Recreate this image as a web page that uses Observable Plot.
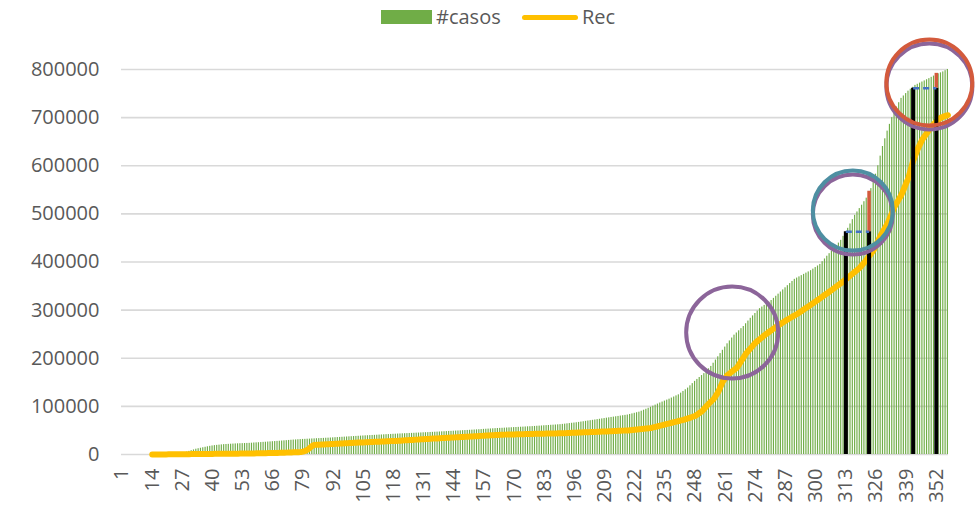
<!DOCTYPE html>
<html><head><meta charset="utf-8">
<script src="https://cdn.jsdelivr.net/npm/d3@7"></script>
<script src="https://cdn.jsdelivr.net/npm/@observablehq/plot@0.6"></script>
<style>
body{margin:0;background:#fff;font-family:"Open Sans",sans-serif;}
#legend{position:relative;height:35px;width:979px;color:#595959;font-size:20px;}
#legend .sw{position:absolute;}
#legend .lb{position:absolute;top:3px;line-height:28px;}
</style></head>
<body>
<div id="legend">
  <div class="sw" style="left:381px;top:10px;width:51px;height:14px;background:#70AD47"></div>
  <div class="lb" style="left:436px">#casos</div>
  <div class="sw" style="left:522px;top:15px;width:56px;height:5px;border-radius:3px;background:#FFC000"></div>
  <div class="lb" style="left:582px">Rec</div>
</div>
<div id="chart"></div>
<script>
const casos = [
0,0,0,0,0,0,0,0,0,0,0,0,0,0,0,0,0,0,0,0,0,0,0,0,
1000,2000,3000,4000,5000,6500,
8000,9500,11000,12000,13000,14000,15000,16000,17000,17800,
18500,19000,19500,20000,20500,20800,21100,21400,21700,22000,
22200,22400,22600,22800,23000,23200,23500,23900,24200,24500,
24800,25200,25500,25900,26200,26600,26900,27300,27600,28000,
28400,28800,29200,29600,30000,30300,30700,31000,31300,31500,
31800,32000,32300,32500,32800,33000,33300,33500,33800,34000,
34300,34600,34900,35200,35500,35800,36100,36400,36700,37000,
37300,37600,37900,38200,38500,38800,39000,39300,39600,39800,
40100,40400,40600,40900,41200,41400,41700,42000,42200,42500,
42700,43000,43200,43400,43700,43900,44100,44400,44600,44800,
45100,45300,45500,45800,46000,46300,46500,46800,47100,47300,
47600,47900,48100,48400,48700,48900,49200,49500,49700,50000,
50300,50600,50900,51200,51500,51800,52200,52500,52800,53100,
53400,53700,54000,54300,54500,54800,55100,55300,55600,55900,
56100,56400,56700,56900,57200,57500,57700,58000,58300,58700,
59000,59300,59700,60000,60300,60700,61000,61300,61700,62000,
62600,63100,63700,64300,64900,65400,66000,66700,67400,68100,
68900,69600,70300,71000,71700,72500,73200,74000,74700,75500,
76200,77000,77700,78400,79100,79900,80600,81300,82000,83200,
84400,85600,86800,88000,90000,92000,94000,96000,98200,100400,
102600,104800,107000,109000,111000,113000,115000,117300,119500,121800,
124000,127500,131000,134500,138000,142700,147300,152000,156000,160000,
164000,168000,173000,178000,183000,189700,196300,203000,209700,216500,
223200,230000,236000,242000,248000,252500,257000,261500,266000,271700,
277300,283000,288000,293000,298000,303000,306400,309800,313200,316600,
320000,324400,328800,333200,337600,342000,346400,350800,355200,359600,
364000,366600,369100,371700,374300,376900,379400,382000,385200,388500,
391700,395000,400700,406300,412000,417300,422700,428000,433700,439300,
445000,453300,461700,470000,479000,488000,497000,504000,511000,518000,
525300,532700,540000,552500,565000,582500,600000,620000,640000,656000,
672000,686000,700000,711000,722000,731000,740000,745000,750000,755000,
759000,763000,767000,769300,771700,774000,776300,778700,781000,783700,
786300,789000,791000,793000,795000,797500,800000
];
const rec = [
null,null,null,null,null,null,null,null,null,null,null,null,null,
0,0,50,100,150,200,250,
300,350,400,450,500,550,600,650,700,750,
800,850,900,950,1000,1050,1100,1150,1200,1250,
1300,1350,1400,1450,1500,1550,1600,1650,1700,1750,
1800,1850,1900,1950,2000,2100,2200,2300,2400,2500,
2600,2700,2800,2900,3000,3100,3200,3300,3400,3500,
3700,3900,4100,4300,4500,4700,4900,5100,6000,7500,
10000,14000,18000,20000,20300,20500,20800,21000,21300,21500,
21800,22000,22300,22500,22800,23000,23300,23500,23800,24000,
24200,24500,24700,24900,25100,25400,25600,25800,26000,26300,
26500,26700,26900,27200,27400,27600,27800,28100,28300,28500,
28800,29100,29400,29700,30000,30300,30600,30900,31200,31500,
31800,32100,32400,32700,33000,33300,33500,33800,34100,34300,
34600,34900,35100,35400,35700,35900,36200,36500,36700,37000,
37300,37600,37900,38100,38400,38700,39000,39300,39600,39900,
40100,40400,40700,41000,41100,41300,41400,41500,41600,41800,
41900,42000,42100,42300,42400,42500,42600,42800,42900,43000,
43100,43200,43300,43400,43500,43600,43700,43800,43900,44000,
44200,44400,44600,44800,45000,45200,45400,45600,45800,46000,
46200,46400,46600,46800,47000,47200,47400,47600,47800,48000,
48200,48400,48700,48900,49100,49300,49600,49800,50000,50500,
51000,51500,52000,52500,53000,53500,54000,54500,55000,56200,
57500,58700,60000,61200,62400,63600,64800,66000,67200,68400,
69600,70800,72000,73600,75200,76800,78400,80000,83300,86700,
90000,95300,100700,106000,110500,115000,122500,130000,141000,152000,
158500,165000,168800,172500,176300,180000,187500,195000,202500,210000,
215500,221000,226500,232000,236000,240000,244000,248000,251500,255000,
258500,262000,265200,268400,271600,274800,278000,280800,283600,286400,
289200,292000,295200,298400,301600,304800,308000,311400,314800,318200,
321600,325000,328400,331800,335200,338600,342000,345600,349200,352800,
356400,360000,364000,368000,372000,376000,380000,384000,388000,393700,
399300,405000,411700,418300,425000,435000,445000,455000,463300,471700,
480000,491700,503300,515000,523300,531700,540000,551700,563300,575000,
592500,610000,622500,635000,645000,655000,661500,668000,675000,682000,
687000,692000,696000,700000,702000,703500,705000
];
const xTickLabels = [1,14,27,40,53,66,79,92,105,118,131,144,157,170,183,196,209,222,235,248,261,274,287,300,313,326,339,352];
const yTicks = [0,100000,200000,300000,400000,500000,600000,700000,800000];

// hand-drawn annotations
const markCats = [313,323,342,352];
const markTops = [463000,463000,761000,761000];
const redCats = [323,352];
const redFrom = [463000,761000];
const redTo = [547000,792000];
const dashFrom = [313,342];
const dashTo = [323,352];
const dashVal = [463000,761000];
const circleCats = [264,316,349];
const circleVals = [253500,507000,773000];
const circleR = [46,40,43];
const circleColors = ["#8C659A","#4E8FA2","#D35A3C"];

const cats = casos.map((_, i) => i + 1);
const data = cats.map((c, i) => ({cat: c, casos: casos[i], rec: rec[i]}));
const recData = data.filter(d => d.rec != null);
const marks4 = markCats.map((c, i) => ({cat: c, top: markTops[i]}));
const reds = redCats.map((c, i) => ({cat: c, y1: redFrom[i], y2: redTo[i]}));
const dashes = dashFrom.map((c, i) => ({x1: c, x2: dashTo[i], y: dashVal[i]}));
const circles = circleCats.map((c, i) => ({cat: c, v: circleVals[i], r: circleR[i], color: circleColors[i]}));

const W = 979, mL = 121, step = 2.316;
const mR = W - mL - Math.round(cats.length * step);

const chart = Plot.plot({
  width: W, height: 470,
  marginTop: 34, marginBottom: 51, marginLeft: mL, marginRight: mR,
  style: {fontFamily: "Open Sans", fontSize: "20px", color: "#595959", background: "#fff"},
  x: {type: "band", domain: cats, paddingInner: 0.5, paddingOuter: 0},
  y: {domain: [0, 800000]},
  r: {type: "identity"},
  color: {type: "identity"},
  marks: [
    Plot.gridY(yTicks, {stroke: "#d9d9d9", strokeOpacity: 1, strokeWidth: 1.6}),
    Plot.barY(data, {x: "cat", y: "casos", fill: "#70AD47"}),
    Plot.line(recData, {x: "cat", y: "rec", stroke: "#FFC000", strokeWidth: 6, strokeLinecap: "round", strokeLinejoin: "round"}),
    Plot.ruleX(marks4, {x: "cat", y1: 0, y2: "top", stroke: "#000", strokeWidth: 4}),
    Plot.ruleX(reds, {x: "cat", y1: "y1", y2: "y2", stroke: "#D35A3C", strokeWidth: 3.5}),
    Plot.link(dashes, {x1: "x1", x2: "x2", y1: "y", y2: "y", stroke: "#4472C4", strokeWidth: 2.5, strokeDasharray: "6,4"}),
    Plot.dot(circles.slice(1), {x: "cat", y: "v", r: "r", dy: 4, stroke: "#8C659A", strokeWidth: 4}),
    Plot.dot(circles, {x: "cat", y: "v", r: "r", stroke: "color", strokeWidth: 4}),
    Plot.axisY({ticks: yTicks, tickSize: 0, tickPadding: 22, tickFormat: "d", label: null}),
    Plot.axisX({ticks: xTickLabels, tickRotate: -90, tickSize: 0, tickPadding: 14, label: null})
  ]
});
document.getElementById("chart").appendChild(chart);
</script>
</body></html>
